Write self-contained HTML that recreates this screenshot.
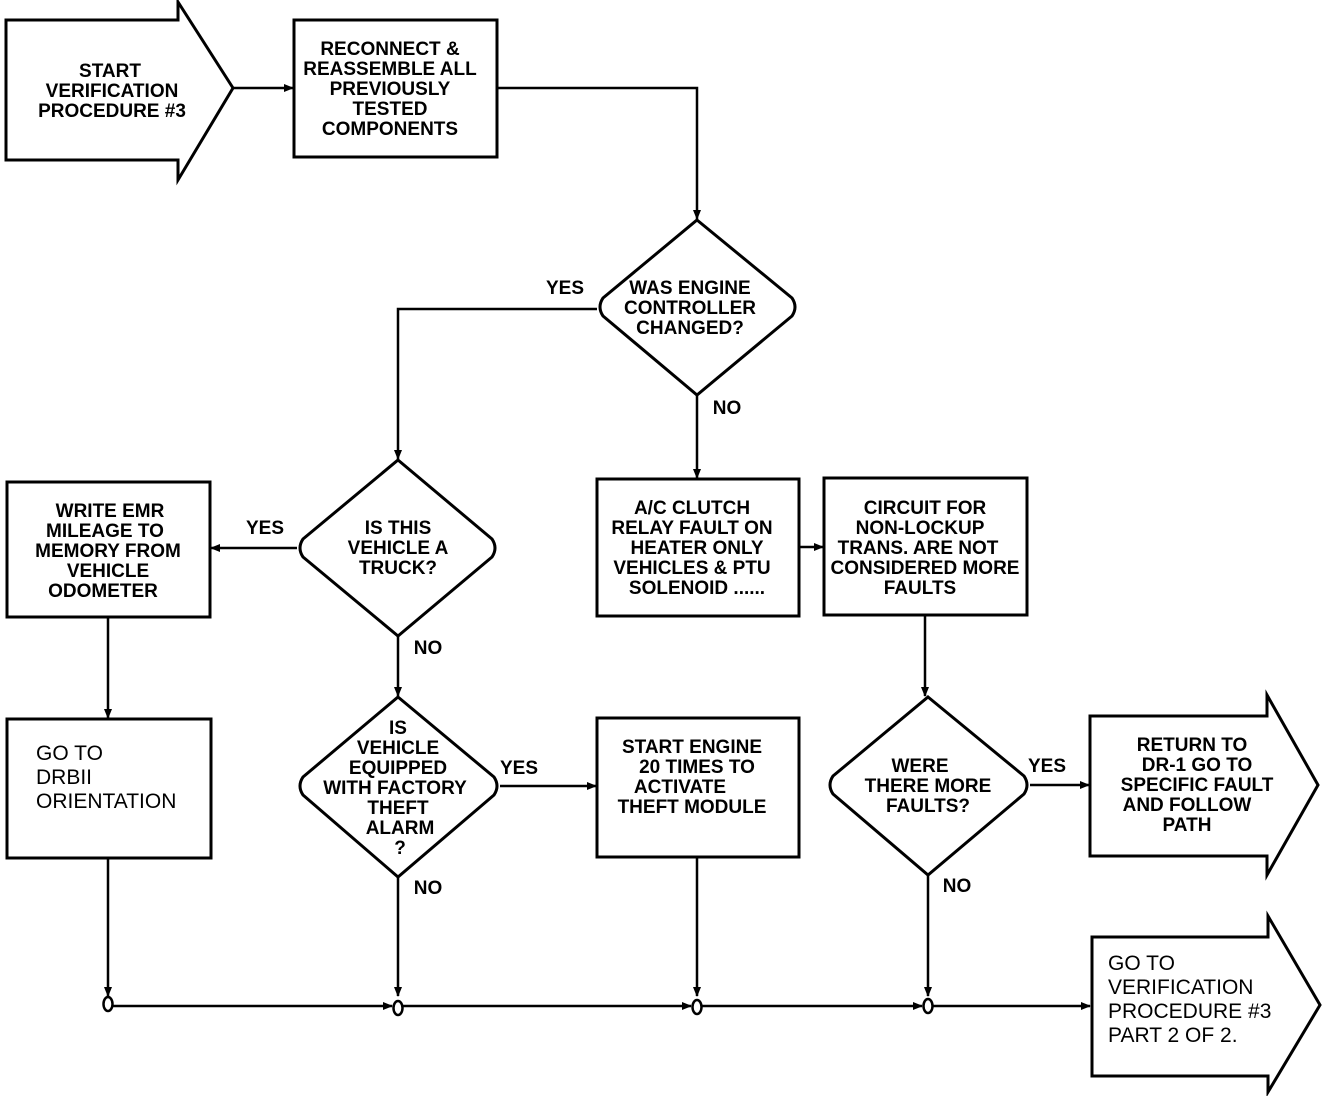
<!DOCTYPE html>
<html><head><meta charset="utf-8"><style>
body{margin:0;background:#fff}
svg{display:block}
.b{font-family:"Liberation Sans",sans-serif;font-weight:bold;font-size:19px;fill:#000}
.r{font-family:"Liberation Sans",sans-serif;font-size:21px;fill:#000}
</style></head><body>
<svg width="1328" height="1096" viewBox="0 0 1328 1096" xmlns="http://www.w3.org/2000/svg">
<defs><marker id="a" markerWidth="10" markerHeight="10" refX="9" refY="5" orient="auto" markerUnits="userSpaceOnUse"><path d="M0,1 L10,5 L0,9 z" fill="#000"/></marker></defs>
<g fill="none" stroke="#000" stroke-width="3">
<path d="M6,20 H178 V2 L233,88 L178,180 V160 H6 Z"/>
<rect x="294" y="20" width="203" height="137"/>
<path d="M1090,716 H1267 V695 L1318,785 L1267,875 V856 H1090 Z"/>
<path d="M1092,937 H1268 V916 L1320,1005 L1268,1092 V1076 H1092 Z"/>
<rect x="597" y="479" width="202" height="137"/>
<rect x="824" y="478" width="203" height="137"/>
<rect x="7" y="482" width="203" height="135"/>
<rect x="7" y="719" width="204" height="139"/>
<rect x="597" y="718" width="202" height="139"/>
<path d="M697,220 L792,298 Q798,307 792,316 L697,395 L603,316 Q597,307 603,298 Z"/>
<path d="M398,460 L492,539 Q498,548 492,557 L398,636 L303,557 Q297,548 303,539 Z"/>
<path d="M398,697 L494,777 Q500,786 494,795 L398,877 L303,795 Q297,786 303,777 Z"/>
<path d="M928,697 L1024,776 Q1030,785 1024,794 L928,875 L833,794 Q827,785 833,776 Z"/>
</g>
<g fill="none" stroke="#000" stroke-width="2.5">
<line x1="233" y1="88" x2="293" y2="88" marker-end="url(#a)"/>
<path d="M497,88 H697 V219" marker-end="url(#a)"/>
<path d="M597,309 H398 V459" marker-end="url(#a)"/>
<line x1="697" y1="395" x2="697" y2="478" marker-end="url(#a)"/>
<line x1="799" y1="547" x2="823" y2="547" marker-end="url(#a)"/>
<line x1="925" y1="615" x2="925" y2="696" marker-end="url(#a)"/>
<line x1="1030" y1="785" x2="1089" y2="785" marker-end="url(#a)"/>
<line x1="297" y1="548" x2="211" y2="548" marker-end="url(#a)"/>
<line x1="108" y1="617" x2="108" y2="718" marker-end="url(#a)"/>
<line x1="398" y1="636" x2="398" y2="696" marker-end="url(#a)"/>
<line x1="500" y1="786" x2="596" y2="786" marker-end="url(#a)"/>
<line x1="108" y1="858" x2="108" y2="996" marker-end="url(#a)"/>
<line x1="398" y1="877" x2="398" y2="996" marker-end="url(#a)"/>
<line x1="697" y1="857" x2="697" y2="996" marker-end="url(#a)"/>
<line x1="928" y1="875" x2="928" y2="996" marker-end="url(#a)"/>
<line x1="113" y1="1006" x2="392" y2="1006" marker-end="url(#a)"/>
<line x1="403" y1="1006" x2="691" y2="1006" marker-end="url(#a)"/>
<line x1="702" y1="1006" x2="922" y2="1006" marker-end="url(#a)"/>
<line x1="933" y1="1006" x2="1090" y2="1006" marker-end="url(#a)"/>
<ellipse cx="108" cy="1004" rx="4.5" ry="7"/>
<ellipse cx="398" cy="1008" rx="4.5" ry="7"/>
<ellipse cx="697" cy="1007" rx="4.5" ry="7"/>
<ellipse cx="928" cy="1006" rx="4.5" ry="7"/>
</g>
<g class="b" text-anchor="middle">
<text x="110" y="77">START</text><text x="112" y="97">VERIFICATION</text><text x="112" y="117">PROCEDURE #3</text>
<text x="390" y="55">RECONNECT &amp;</text><text x="390" y="75">REASSEMBLE ALL</text><text x="390" y="95">PREVIOUSLY</text><text x="390" y="115">TESTED</text><text x="390" y="135">COMPONENTS</text>
<text x="690" y="294">WAS ENGINE</text><text x="690" y="314">CONTROLLER</text><text x="690" y="334">CHANGED?</text>
<text x="565" y="294">YES</text><text x="727" y="414">NO</text>
<text x="692" y="514">A/C CLUTCH</text><text x="692" y="534">RELAY FAULT ON</text><text x="697" y="554">HEATER ONLY</text><text x="692" y="574">VEHICLES &amp; PTU</text><text x="697" y="594">SOLENOID ......</text>
<text x="925" y="514">CIRCUIT FOR</text><text x="920" y="534">NON-LOCKUP</text><text x="918" y="554">TRANS. ARE NOT</text><text x="925" y="574">CONSIDERED MORE</text><text x="920" y="594">FAULTS</text>
<text x="920" y="772">WERE</text><text x="928" y="792">THERE MORE</text><text x="928" y="812">FAULTS?</text>
<text x="1047" y="772">YES</text><text x="957" y="892">NO</text>
<text x="1192" y="751">RETURN TO</text><text x="1197" y="771">DR-1 GO TO</text><text x="1197" y="791">SPECIFIC FAULT</text><text x="1187" y="811">AND FOLLOW</text><text x="1187" y="831">PATH</text>
<text x="398" y="534">IS THIS</text><text x="398" y="554">VEHICLE A</text><text x="398" y="574">TRUCK?</text>
<text x="265" y="534">YES</text><text x="428" y="654">NO</text>
<text x="110" y="517">WRITE EMR</text><text x="105" y="537">MILEAGE TO</text><text x="108" y="557">MEMORY FROM</text><text x="108" y="577">VEHICLE</text><text x="103" y="597">ODOMETER</text>
<text x="398" y="734">IS</text><text x="398" y="754">VEHICLE</text><text x="398" y="774">EQUIPPED</text><text x="395" y="794">WITH FACTORY</text><text x="398" y="814">THEFT</text><text x="400" y="834">ALARM</text><text x="400" y="854">?</text>
<text x="519" y="774">YES</text><text x="428" y="894">NO</text>
<text x="692" y="753">START ENGINE</text><text x="697" y="773">20 TIMES TO</text><text x="680" y="793">ACTIVATE</text><text x="692" y="813">THEFT MODULE</text>
</g>
<g class="r">
<text x="36" y="760">GO TO</text><text x="36" y="784">DRBII</text><text x="36" y="808">ORIENTATION</text>
<text x="1108" y="970">GO TO</text><text x="1108" y="994">VERIFICATION</text><text x="1108" y="1018">PROCEDURE #3</text><text x="1108" y="1042">PART 2 OF 2.</text>
</g>
</svg>
</body></html>
